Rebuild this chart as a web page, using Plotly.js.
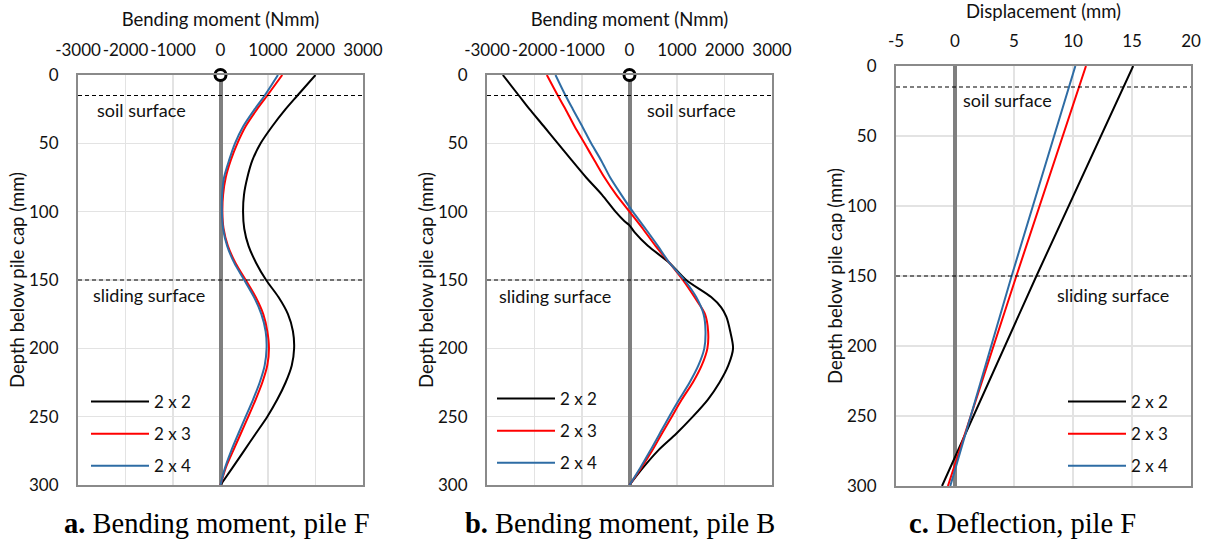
<!DOCTYPE html>
<html>
<head>
<meta charset="utf-8">
<script src="https://cdn.plot.ly/plotly-3.0.1.min.js"></script>
<style>html,body{margin:0;padding:0;background:#fff;}#chart{width:1212px;height:540px;}</style>
</head>
<body>
<div id="chart"></div>
<script>
// ---------- data ----------
var seriesNames = ['2 x 2', '2 x 3', '2 x 4'];
var seriesColors = ['#000000', '#ff0000', '#2e6ca4'];

// Panel a: Bending moment, pile F (depth in mm, moment in Nmm)
var depthA = [0, 15, 25, 37.5, 50, 62.5, 75, 87.5, 100, 112.5, 125, 137.5, 150, 162.5, 175, 187.5, 200, 212.5, 225, 237.5, 250, 262.5, 275, 287.5, 300];
var momentA_22 = [2000, 1620, 1370, 1090, 845, 670, 565, 495, 475, 500, 590, 750, 960, 1220, 1420, 1525, 1550, 1500, 1370, 1195, 985, 740, 495, 250, 0];
var momentA_23 = [1300, 985, 770, 530, 355, 215, 110, 55, 40, 65, 155, 315, 530, 740, 900, 985, 1020, 985, 880, 740, 585, 425, 265, 110, 0];
var momentA_24 = [1210, 930, 720, 480, 305, 180, 75, 35, 30, 55, 140, 290, 500, 705, 860, 950, 970, 930, 825, 685, 530, 375, 225, 95, 0];

// Panel b: Bending moment, pile B
var depthB_22 = [0, 15, 25, 37.5, 50, 62.5, 75, 87.5, 100, 107, 110, 115, 125, 137.5, 150, 162.5, 170, 177, 187.5, 200, 212.5, 225, 237.5, 250, 262.5, 275, 287.5, 300];
var momentB_22 = [-2667, -2330, -2105, -1804, -1509, -1214, -912, -582, -295, -105, 0, 105, 386, 842, 1193, 1719, 1930, 2040, 2120, 2180, 2080, 1895, 1650, 1333, 983, 596, 281, 0];
var depthB = [0, 15, 25, 37.5, 50, 62.5, 75, 87.5, 100, 112.5, 125, 137.5, 150, 162.5, 175, 187.5, 200, 212.5, 225, 237.5, 250, 262.5, 275, 287.5, 300];
var momentB_23 = [-1740, -1509, -1347, -1158, -947, -737, -526, -281, 0, 281, 547, 842, 1123, 1368, 1590, 1655, 1640, 1520, 1333, 1100, 890, 680, 475, 246, 0];
var momentB_24 = [-1558, -1347, -1193, -996, -807, -596, -407, -175, 70, 337, 596, 842, 1158, 1404, 1560, 1600, 1575, 1450, 1265, 1045, 835, 635, 435, 225, 0];

// Panel c: Deflection, pile F (displacement in mm)
var depthC = [0, 150, 300];
var dispC_22 = [15.1, 6.9, -1.1];
var dispC_23 = [11.1, 5.2, -0.6];
var dispC_24 = [10.2, 4.8, -0.4];

// pile head marker
var headDepth = [0];
var headMoment = [0];

// reference levels
var soilSurfaceDepth = 15;
var slidingSurfaceDepth = 150;

// ticks
var momentTickVals = [-3000, -2000, -1000, 0, 1000, 2000, 3000];
var momentTickText = ['-3000', '-2000', '-1000', '0', '1000', '2000', '3000'];
var dispTickVals = [-5, 0, 5, 10, 15, 20];
var dispTickText = ['-5', '0', '5', '10', '15', '20'];
var depthTickVals = [0, 50, 100, 150, 200, 250, 300];
var depthTickText = ['0', '50', '100', '150', '200', '250', '300'];

var captions = ['<b>a.</b> Bending moment, pile F', '<b>b.</b> Bending moment, pile B', '<b>c.</b> Deflection, pile F'];

// ---------- traces ----------
var FONT = 'Lato, "Open Sans", sans-serif';
function line(x, y, i, xa, ya, lg) {
  return {x: x, y: y, xaxis: xa, yaxis: ya, type: 'scatter', mode: 'lines',
    name: seriesNames[i], legend: lg, legendgroup: lg + '_' + i,
    line: {color: seriesColors[i], width: 2, shape: 'spline', smoothing: 0.8}};
}
var traces = [
  line(momentA_22, depthA, 0, 'x', 'y', 'legend'),
  line(momentA_23, depthA, 1, 'x', 'y', 'legend'),
  line(momentA_24, depthA, 2, 'x', 'y', 'legend'),
  line(momentB_22, depthB_22, 0, 'x2', 'y2', 'legend2'),
  line(momentB_23, depthB, 1, 'x2', 'y2', 'legend2'),
  line(momentB_24, depthB, 2, 'x2', 'y2', 'legend2'),
  line(dispC_22, depthC, 0, 'x3', 'y3', 'legend3'),
  line(dispC_23, depthC, 1, 'x3', 'y3', 'legend3'),
  line(dispC_24, depthC, 2, 'x3', 'y3', 'legend3')
];
['x', 'x2'].forEach(function (xa, k) {
  traces.push({x: headMoment, y: headDepth, xaxis: xa, yaxis: k ? 'y2' : 'y', type: 'scatter', mode: 'markers',
    showlegend: false, cliponaxis: false,
    marker: {symbol: 'circle', size: 11, color: '#ffffff', line: {color: '#000', width: 3}}});
});

// ---------- layout ----------
function xAxis(dom, rng, tv, tt, title, anchor) {
  return {domain: dom, range: rng, side: 'top', anchor: anchor, tickvals: tv, ticktext: tt, tickangle: 0,
    showgrid: true, gridcolor: '#e3e3e3', gridwidth: 1.5,
    zeroline: true, zerolinecolor: '#7f7f7f', zerolinewidth: 4,
    showline: true, mirror: true, linecolor: '#8a8a8a', linewidth: 2,
    ticks: '', ticklabelstandoff: 10,
    tickfont: {family: FONT, size: 17, color: '#111'},
    title: {text: title, font: {family: FONT, size: 18.5, color: '#111'}, standoff: 8},
    fixedrange: true};
}
function yAxis(dom, anchor) {
  return {domain: dom, range: [300, 0], anchor: anchor, tickvals: depthTickVals, ticktext: depthTickText,
    showgrid: true, gridcolor: '#e3e3e3', gridwidth: 1.5, zeroline: false,
    showline: true, mirror: true, linecolor: '#8a8a8a', linewidth: 2,
    ticks: '', ticklabelstandoff: 14,
    tickfont: {family: FONT, size: 17, color: '#111'},
    title: {text: 'Depth below pile cap (mm)', font: {family: FONT, size: 18.5, color: '#111'}, standoff: 0},
    fixedrange: true};
}
var domA = [78 / 1212, 363 / 1212], domB = [487 / 1212, 772 / 1212], domC = [896 / 1212, 1191 / 1212];
var domYab = [55 / 540, 465 / 540], domYc = [54 / 540, 474 / 540];

var shapes = [];
[['x', 'y'], ['x2', 'y2'], ['x3', 'y3']].forEach(function (p) {
  [soilSurfaceDepth, slidingSurfaceDepth].forEach(function (d) {
    shapes.push({type: 'line', xref: p[0] + ' domain', yref: p[1], x0: 0, x1: 1, y0: d, y1: d,
      line: {color: '#000', width: 1.2, dash: '4px,3px'}, layer: 'above'});
  });
});

function ann(x, y, xr, yr, text) {
  return {x: x, y: y, xref: xr, yref: yr, text: text, showarrow: false, xanchor: 'left', yanchor: 'middle',
    font: {family: FONT, size: 18, color: '#111'}};
}
var annotations = [
  ann(-2650, 25.5, 'x', 'y', 'soil surface'),
  ann(-2720, 161, 'x', 'y', 'sliding surface'),
  ann(320, 25.5, 'x2', 'y2', 'soil surface'),
  ann(-2780, 162, 'x2', 'y2', 'sliding surface'),
  ann(0.5, 24, 'x3', 'y3', 'soil surface'),
  ann(8.5, 163.5, 'x3', 'y3', 'sliding surface')
];
var capX = [217 / 1212, 620 / 1212, 1022 / 1212];
captions.forEach(function (c, i) {
  annotations.push({x: capX[i], y: 17 / 540, xref: 'paper', yref: 'paper', text: c, showarrow: false,
    xanchor: 'center', yanchor: 'middle', font: {family: '"Liberation Serif", "Times New Roman", serif', size: 28.5, color: '#000'}});
});

function legend(x, y) {
  return {x: x, y: y, xref: 'paper', yref: 'paper', xanchor: 'left', yanchor: 'top', bgcolor: 'rgba(0,0,0,0)',
    itemwidth: 58, tracegroupgap: 7, font: {family: FONT, size: 17, color: '#111'}};
}

var layout = {
  width: 1212, height: 540, margin: {l: 0, r: 0, t: 0, b: 0},
  paper_bgcolor: '#fff', plot_bgcolor: '#fff', showlegend: true,
  xaxis: xAxis(domA, [-3000, 3000], momentTickVals, momentTickText, 'Bending moment (Nmm)', 'y'),
  yaxis: yAxis(domYab, 'x'),
  xaxis2: xAxis(domB, [-3000, 3000], momentTickVals, momentTickText, 'Bending moment (Nmm)', 'y2'),
  yaxis2: yAxis(domYab, 'x2'),
  xaxis3: xAxis(domC, [-5, 20], dispTickVals, dispTickText, 'Displacement (mm)', 'y3'),
  yaxis3: yAxis(domYc, 'x3'),
  legend: legend(86 / 1212, 1 - 384 / 540),
  legend2: legend(492 / 1212, 1 - 381 / 540),
  legend3: legend(1063 / 1212, 1 - 384 / 540),
  shapes: shapes, annotations: annotations
};

Plotly.newPlot('chart', traces, layout, {staticPlot: true, displayModeBar: false});
</script>
</body>
</html>
